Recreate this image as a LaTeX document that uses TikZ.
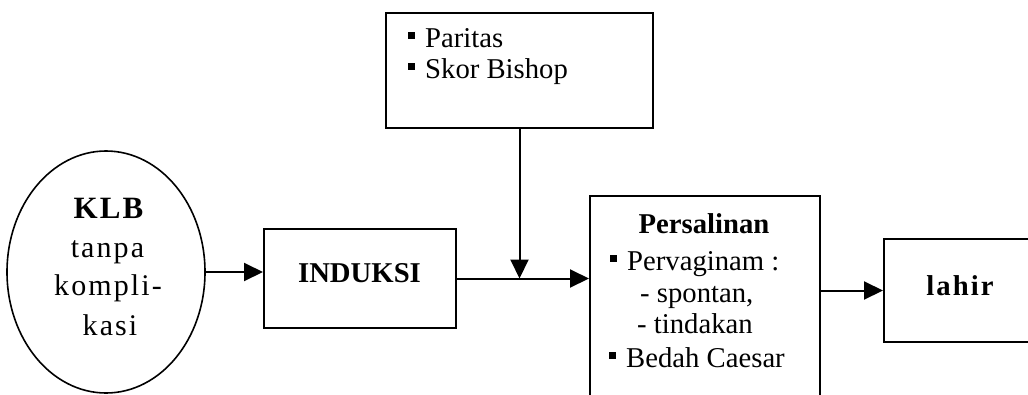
\documentclass[tikz,border=0pt]{standalone}
\usepackage{fontspec}
\setmainfont{Liberation Serif}
\newfontfamily\widefont[LetterSpace=7]{Liberation Serif}
\usetikzlibrary{arrows.meta,shapes.geometric}
% small filled square used as list bullet
\newcommand\sqbullet{\raisebox{8pt}{\rule{7pt}{7pt}}\hspace{10pt}}
\begin{document}
\begin{tikzpicture}[x=1pt,y=-1pt,
  box/.style={draw, line width=2pt, inner sep=0pt, anchor=north west},
  link/.style={line width=2pt, -{Triangle[length=19pt,width=18pt]}},
  txt/.style={inner sep=0pt, font=\fontsize{28.7}{33}\selectfont},
  ctr/.style={txt, anchor=base},
  lft/.style={txt, anchor=base west}]
\useasboundingbox (0,0) rectangle (1028,394);
\clip (0,0) rectangle (1028,394);

% frames
\node[draw, ellipse, line width=1.6pt, minimum width=198pt, minimum height=242pt, inner sep=0pt] (ell) at (106,272) {};
\node[box, minimum width=192pt, minimum height=99pt] (ind) at (263,228) {};
\node[box, minimum width=267pt, minimum height=115pt] (top) at (385,12) {};
\node[box, minimum width=230pt, minimum height=240pt] (pers) at (589,195) {};
\node[box, minimum width=160pt, minimum height=103pt] (lahir) at (883,238) {};

% labels in the ellipse
\node[ctr] (klb) at (108.5,218) {\fontsize{31}{33}\selectfont\widefont\bfseries KLB};
\node[ctr] (tanpa) at (107.5,257) {\fontsize{30}{33}\selectfont\widefont tanpa};
\node[ctr] (kompli) at (108,295) {\fontsize{30}{33}\selectfont\widefont kompli-};
\node[ctr] (kasi) at (110,335) {\fontsize{30}{33}\selectfont\widefont kasi};

% INDUKSI
\node[ctr] (indtxt) at (359.5,282) {\bfseries INDUKSI};

% factors
\node[lft] (paritas) at (408,47) {\sqbullet Paritas};
\node[lft] (bishop) at (408,78) {\sqbullet Skor Bishop};

% delivery
\node[ctr] (perstitle) at (704,233) {\bfseries Persalinan};
\node[lft] (pervag) at (610,270) {\sqbullet Pervaginam :};
\node[lft] (spontan) at (640,302) {- spontan,};
\node[lft] (tindakan) at (637,333) {- tindakan};
\node[lft] (bedah) at (609,367) {\sqbullet Bedah Caesar};

% outcome
\node[ctr] (lahirtxt) at (960,295) {\widefont\bfseries lahir};

% connectors
\draw[link] (ell.east) -- (ell.east -| ind.west);
\draw[link] (ind.east) -- (ind.east -| pers.west);
\draw[link] (top.south) -- (top.south |- ind.east);
\draw[link] (lahir.west -| pers.east) -- (lahir.west);
\end{tikzpicture}
\end{document}
